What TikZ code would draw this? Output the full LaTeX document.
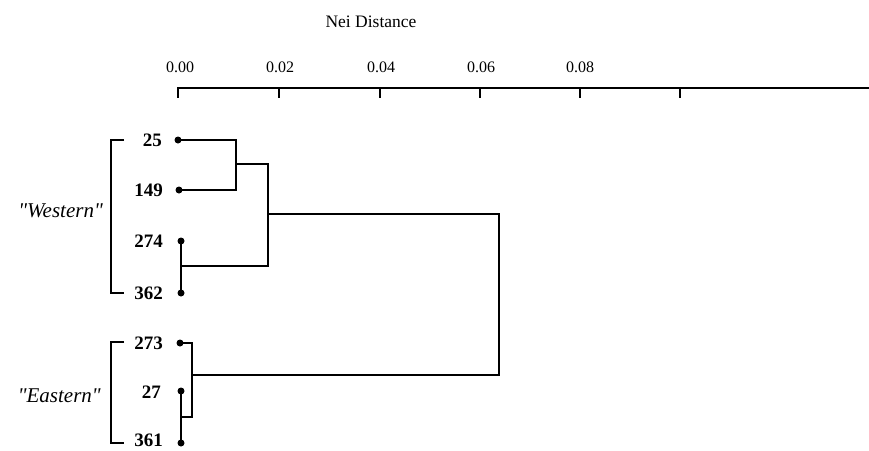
\documentclass[tikz,border=0pt]{standalone}
\usepackage{fontspec}
\setmainfont{Liberation Serif}[Ligatures=TeXOff]
\begin{document}
\begin{tikzpicture}[x=1pt,y=-1pt,
  link/.style={line width=2.2pt, line cap=rect},
  axisline/.style={line width=2.6pt},
  leaf/.style={font=\fontsize{19}{19}\selectfont\bfseries, anchor=east, inner sep=0pt},
  group/.style={font=\fontsize{21}{21}\selectfont\itshape, anchor=east, inner sep=0pt},
  ticklabel/.style={font=\fontsize{16}{16}\selectfont, inner sep=0pt},
  dot/.style={circle, fill, inner sep=0pt, minimum size=7pt}]
\useasboundingbox (0,0) rectangle (869,450);

% distance axis
\node[ticklabel, font=\fontsize{17.5}{17.5}\selectfont] (title) at (371,22) {Nei Distance};
\coordinate (axstart) at (178,88);
\coordinate (axend) at (869,88);
\draw[axisline] (axstart) -- (axend);
\foreach \x in {178,279,380,480,580,680}
  \draw[line width=2.2pt] (\x,87) -- (\x,98);
\foreach \x/\l in {180/0.00,280/0.02,381/0.04,481/0.06,580/0.08}
  \node[ticklabel] at (\x,67) {\l};

% leaves
\node[dot] (d25)  at (178,140) {};
\node[dot] (d149) at (179,190) {};
\node[dot] (d274) at (181,241) {};
\node[dot] (d362) at (181,293) {};
\node[dot] (d273) at (180,343) {};
\node[dot] (d27)  at (181,391) {};
\node[dot] (d361) at (181,443) {};

\node[leaf] (l25)  at (162,140) {25};
\node[leaf] (l149) at (163,190) {149};
\node[leaf] (l274) at (163,241) {274};
\node[leaf] (l362) at (163,293) {362};
\node[leaf] (l273) at (163,343) {273};
\node[leaf] (l27)  at (161,392) {27};
\node[leaf] (l361) at (163,440) {361};

% group brackets
\draw[link, line cap=butt] (124,140) -- (111,140) -- (111,293) -- (124,293);
\draw[link, line cap=butt] (124,342) -- (111,342) -- (111,443) -- (124,443);
\node[group] (west) at (103,211) {"Western"};
\node[group] (east) at (101,396) {"Eastern"};

% junctions
\coordinate (j1) at (236,164);
\coordinate (j2) at (268,214);
\coordinate (j3) at (181,266);
\coordinate (j4) at (181,417);
\coordinate (j5) at (192,375);
\coordinate (root) at (499,294);

% tree
\draw[link] (d25) -| (j1) |- (d149);
\draw[link] (j1) -| (j2) |- (j3);
\draw[link] (d274) -- (d362);
\draw[link] (d27) -- (d361);
\draw[link] (d273) -| (j5) |- (j4);
\draw[link] (j2) -| (root) |- (j5);
\end{tikzpicture}
\end{document}
